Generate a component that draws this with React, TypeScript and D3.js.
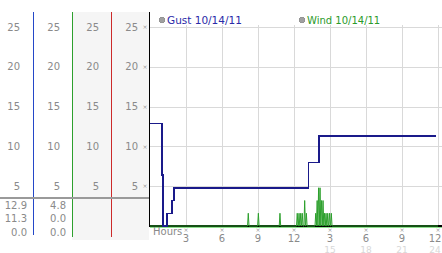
import React from "react";
import * as d3 from "d3";

const yTicks = [5, 10, 15, 20, 25];
const xTickHours = [3, 6, 9, 12, 15, 18, 21, 24];
const xTickLabels = ["3", "6", "9", "12", "3", "6", "9", "12"];
const xTick2Hours = [15, 18, 21, 24];
const xTick2Labels = ["15", "18", "21", "24"];

const gustHours = [0, 1.0, 1.0, 1.08, 1.08, 1.42, 1.42, 1.83, 1.83, 2.0, 2.0, 13.2, 13.2, 14.08, 14.08, 23.83];
const gustValues = [12.9, 12.9, 6.4, 6.4, 0, 0, 1.6, 1.6, 3.2, 3.2, 4.8, 4.8, 8.0, 8.0, 11.3, 11.3];

const windSpikeHours = [8.19, 9.03, 10.83, 12.27, 12.42, 12.56, 12.69, 12.89, 13.03, 13.81, 13.93, 14.05, 14.17, 14.29, 14.42, 14.54, 14.67, 14.81, 14.96, 15.11];
const windSpikeValues = [1.6, 1.6, 1.6, 1.6, 1.6, 1.6, 1.6, 3.2, 1.6, 1.6, 3.2, 4.8, 4.8, 3.2, 3.2, 1.6, 1.6, 1.6, 1.6, 1.6];
const windEnd = 24;

const col1Values = ["12.9", "11.3", "0.0"];
const col2Values = ["4.8", "0.0", "0.0"];

const gustLabel = "Gust 10/14/11";
const windLabel = "Wind 10/14/11";

export default function App() {
  const W = 442, H = 253;
  const x = d3.scaleLinear().domain([0, 24]).range([150, 438]);
  const y = d3.scaleLinear().domain([0, 25]).range([226, 27]);
  const font = "'DejaVu Sans', Verdana, sans-serif";

  const gustPts: [number, number][] = gustHours.map((h, i) => [x(h), y(gustValues[i])]);
  const gustPath = d3.line()(gustPts) || "";

  const windPts: [number, number][] = [[x(0), y(0)]];
  const hw = 0.06;
  windSpikeHours.forEach((h, i) => {
    windPts.push([x(h - hw), y(0)]);
    windPts.push([x(h), y(windSpikeValues[i])]);
    windPts.push([x(h + hw), y(0)]);
  });
  windPts.push([x(windEnd), y(0)]);
  const windPath = d3.line()(windPts) || "";

  const colRight = [20, 60, 99, 138];
  const gray = "#8a8a8a";
  const clampX = (v: number) => Math.min(v, 435);

  return (
    <svg width={W} height={H} style={{ position: "absolute", left: 0, top: 0, background: "#fff" }} shapeRendering="crispEdges">
      {/* gray background for columns 3 and 4 */}
      <rect x={72} y={12} width={77} height={228} fill="#f5f5f5" />
      {/* vertical colored separators */}
      <rect x={33} y={12} width={1.4} height={223} fill="#2448c8" />
      <rect x={72} y={12} width={1.4} height={225} fill="#2ea02e" />
      <rect x={111} y={12} width={1.4} height={225} fill="#cc2a2a" />
      {/* y labels in columns */}
      {colRight.map((cx, ci) =>
        yTicks.map((t) => (
          <text key={`yl${ci}-${t}`} x={cx} y={y(t)} dy="0.35em" textAnchor="end" fontFamily={font} fontSize={10} fill={gray}>
            {t}
          </text>
        ))
      )}
      {/* tiny tick marks */}
      {yTicks.map((t) => (
        <text key={`ym${t}`} x={145} y={y(t)} dy="0.35em" textAnchor="middle" fontFamily={font} fontSize={6} fill="#999">×</text>
      ))}
      {/* gray separator line */}
      <line x1={0} x2={150} y1={197.5} y2={197.5} stroke="#9a9a9a" strokeWidth={2} />
      {/* value readouts */}
      {col1Values.map((v, i) => (
        <text key={`c1${i}`} x={27} y={205 + i * 13.5} dy="0.35em" textAnchor="end" fontFamily={font} fontSize={10} fill={gray}>{v}</text>
      ))}
      {col2Values.map((v, i) => (
        <text key={`c2${i}`} x={66} y={205 + i * 13.5} dy="0.35em" textAnchor="end" fontFamily={font} fontSize={10} fill={gray}>{v}</text>
      ))}
      {/* grid */}
      {yTicks.map((t) => (
        <line key={`gh${t}`} x1={150} x2={442} y1={Math.round(y(t)) + 0.5} y2={Math.round(y(t)) + 0.5} stroke="#d9d9d9" />
      ))}
      {xTickHours.map((h) => (
        <line key={`gv${h}`} x1={Math.round(x(h)) + 0.5} x2={Math.round(x(h)) + 0.5} y1={y(25) - 2} y2={y(0)} stroke="#d9d9d9" />
      ))}
      {/* legend */}
      <circle cx={162} cy={20} r={3} fill="#a0a0a0" stroke="#888" strokeWidth={0.5} />
      <text x={167} y={20} dy="0.35em" fontFamily={font} fontSize={10.5} fill="#2a2aa8">{gustLabel}</text>
      <circle cx={302} cy={20} r={3} fill="#a0a0a0" stroke="#888" strokeWidth={0.5} />
      <text x={307} y={20} dy="0.35em" fontFamily={font} fontSize={10} fill="#2a9a2a">{windLabel}</text>
      {/* axes */}
      <line x1={150} x2={442} y1={227.5} y2={227.5} stroke="#8ee08e" strokeWidth={1.5} />
      <line x1={149} x2={442} y1={226} y2={226} stroke="#000" strokeWidth={1.5} />
      <line x1={149.5} x2={149.5} y1={12} y2={227} stroke="#000" strokeWidth={1.5} />
      {/* series */}
      <path d={windPath} fill="none" stroke="#2ca02c" strokeWidth={1} shapeRendering="auto" />
      <path d={gustPath} fill="none" stroke="#1a1a8a" strokeWidth={1.5} />
      {/* x axis labels */}
      <text x={153} y={231} dy="0.35em" fontFamily={font} fontSize={10} fill={gray}>Hours</text>
      {xTickHours.map((h, i) => (
        <g key={`xt${h}`}>
          <text x={x(h)} y={229.5} dy="0.35em" textAnchor="middle" fontFamily={font} fontSize={6} fill="#999">×</text>
          <text x={clampX(x(h))} y={238} dy="0.35em" textAnchor="middle" fontFamily={font} fontSize={10} fill={gray}>{xTickLabels[i]}</text>
        </g>
      ))}
      {xTick2Hours.map((h, i) => (
        <text key={`xt2${h}`} x={clampX(x(h))} y={249.5} dy="0.35em" textAnchor="middle" fontFamily={font} fontSize={9} fill="#d8d8d8">{xTick2Labels[i]}</text>
      ))}
    </svg>
  );
}
